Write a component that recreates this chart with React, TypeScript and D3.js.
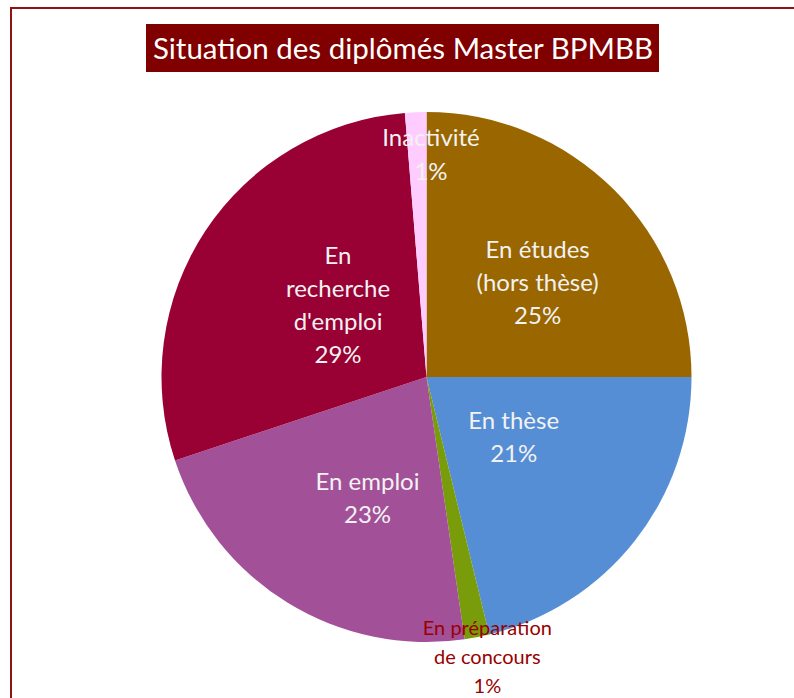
import React from 'react';
import { pie, arc, PieArcDatum } from 'd3';

// slices clockwise from 12 o'clock
const categories = [
  'En études (hors thèse)',
  'En thèse',
  'En préparation de concours',
  'En emploi',
  "En recherche d'emploi",
  'Inactivité',
];
const shares = [25, 21.2, 1.5, 22.2, 28.8, 1.3];
const pctLabels = ['25%', '21%', '1%', '23%', '29%', '1%'];
const labelLines = [
  ['En études', '(hors thèse)'],
  ['En thèse'],
  ['En préparation', 'de concours'],
  ['En emploi'],
  ['En', 'recherche', "d'emploi"],
  ['Inactivité'],
];
const colors = ['#996600', '#558ED5', '#789C0A', '#A25199', '#990033', '#FFCCFF'];

// label placement: radius fraction + angle nudge (deg)
const labelPos = [
  { f: 0.55, da: 4.7 },
  { f: 0.4, da: -3.5 },
  { f: 1.08, da: -1.3 },
  { f: 0.51, da: -5.8 },
  { f: 0.43, da: 5.6 },
  { f: 0.84, da: 3.5 },
];

const W = 794;
const H = 698;
const cx = 426.5;
const cy = 377;
const R = 265;
const FONT = 'Lato, "Open Sans", sans-serif';

type Row = { name: string; value: number; i: number };

export default function App() {
  const rows: Row[] = categories.map((name, i) => ({ name, value: shares[i], i }));
  const arcs = pie<Row>().value(d => d.value).sort(null)(rows);
  const arcGen = arc<PieArcDatum<Row>>().innerRadius(0).outerRadius(R);

  return (
    <div style={{ position: 'absolute', left: 0, top: 0 }}>
      <svg width={W} height={H} style={{ display: 'block' }}>
        <rect width={W} height={H} fill="#fff" />
        {/* frame */}
        <rect x={11} y={8} width={W} height={H} fill="none" stroke="#8E1515" strokeWidth={2} />
        {/* title */}
        <rect x={146} y={24} width={513} height={48} fill="#800000" />
        <text x={403} y={58.5} textAnchor="middle" fontFamily={FONT} fontSize={29.5} fill="#fff">
          Situation des diplômés Master BPMBB
        </text>
        <g transform={`translate(${cx},${cy})`}>
          {arcs.map(a => (
            <path key={a.data.name} d={arcGen(a) || ''} fill={colors[a.data.i]} />
          ))}
          {arcs.map(a => {
            const i = a.data.i;
            const lp = labelPos[i];
            const ang = (a.startAngle + a.endAngle) / 2 + (lp.da * Math.PI) / 180;
            const x = Math.sin(ang) * R * lp.f;
            const y = -Math.cos(ang) * R * lp.f;
            const outside = i === 2;
            const fs = outside ? 20 : 24;
            const lh = outside ? 29 : i === 5 ? 34 : 33;
            const lines = [...labelLines[i], pctLabels[i]];
            const y0 = y - ((lines.length - 1) * lh) / 2 + fs * 0.35;
            return (
              <text
                key={'l' + i}
                textAnchor="middle"
                fontFamily={FONT}
                fontSize={fs}
                fill={outside ? '#990000' : '#F2F2F2'}
              >
                {lines.map((t, k) => (
                  <tspan key={k} x={x} y={y0 + k * lh}>
                    {t}
                  </tspan>
                ))}
              </text>
            );
          })}
        </g>
      </svg>
    </div>
  );
}
